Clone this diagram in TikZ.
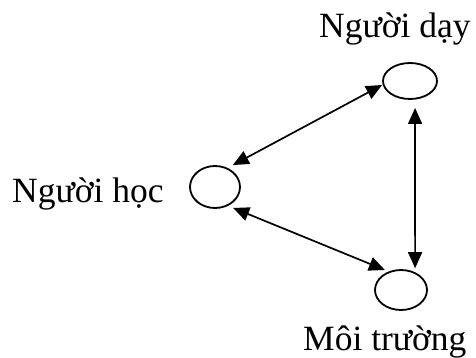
\documentclass[tikz,border=0pt]{standalone}
\usepackage{fontspec}
\setmainfont{Liberation Serif}
\usetikzlibrary{shapes.geometric,arrows.meta}
\begin{document}
\begin{tikzpicture}[x=1pt,y=-1pt,
  role/.style={ellipse,draw,line width=1.8pt,inner sep=0pt,outer sep=0pt},
  lbl/.style={anchor=base west,inner sep=0pt,font=\fontsize{35.5}{42}\selectfont},
  link/.style={line width=1.7pt,{Triangle[length=16pt,width=14pt]}-{Triangle[length=16pt,width=14pt]}}]
  \useasboundingbox (0,0) rectangle (476,358);

  % the three participants
  \node[role,minimum width=54pt,minimum height=36pt] (teacher) at (410,81) {};
  \node[role,minimum width=50pt,minimum height=42pt] (learner) at (215,187) {};
  \node[role,minimum width=52pt,minimum height=40pt] (env) at (401,290) {};

  % their names
  \node[lbl] (tlabel) at (319,38) {Người dạy};
  \node[lbl] (llabel) at (12,202) {Người học};
  \node[lbl] (elabel) at (303,350) {Môi trường};

  % two-way relations
  \draw[link,shorten <=7pt,shorten >=1.5pt] (learner.58) -- (teacher.187);
  \draw[link,shorten <=6.7pt,shorten >=5.2pt] (learner.-57.5) -- (env.122);
  \draw[link,shorten <=9.3pt,shorten >=5pt] (teacher.-74.2) -- (env.50.5);
\end{tikzpicture}
\end{document}
